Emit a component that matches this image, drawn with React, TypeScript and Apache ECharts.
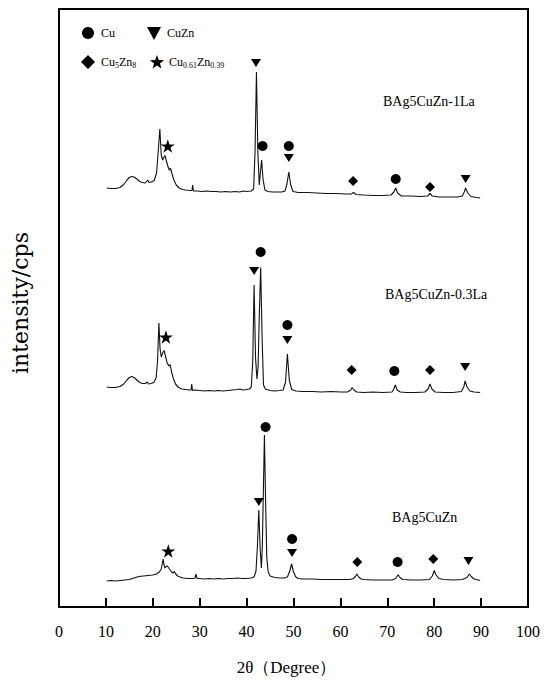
import { useEffect, useRef } from "react";
import * as echarts from "echarts";

// ---- data (2θ in degrees, intensity as plotted, patterns stacked) ----
const xTickValues = [0, 10, 20, 30, 40, 50, 60, 70, 80, 90, 100];

const sampleNames = ["BAg5CuZn-1La", "BAg5CuZn-0.3La", "BAg5CuZn"];

const patternTop: [number, number][] = [
  [10.2, 419], [11, 418.5], [12, 418.5], [13, 419.5], [13.8, 422.5], [14.5, 427], [15.0, 429.5], [15.5, 430.5],
  [16.0, 430], [16.6, 428], [17.2, 425.5], [17.8, 424.5], [18.4, 424], [18.9, 427], [19.2, 424.5], [19.7, 425],
  [20.3, 426.5], [20.8, 434], [21.1, 452], [21.5, 478], [21.8, 452], [22.1, 447], [22.4, 450], [22.6, 451.5],
  [22.9, 446], [23.2, 441], [23.5, 437], [23.8, 438.5], [24.1, 433], [24.5, 427], [25, 422], [25.6, 419],
  [26.3, 417.5], [27, 417], [28, 416.5], [28.35, 416.5], [28.5, 422], [28.65, 416], [29.5, 416], [30.5, 415.5],
  [31.5, 416], [32.5, 415.5], [33.5, 415.5], [34.5, 415], [35.5, 415.5], [36.5, 415], [37.5, 415.5], [38.5, 415],
  [39.3, 416], [40, 415.5], [41, 416], [41.5, 418], [41.8, 455], [42.1, 535], [42.4, 455], [42.7, 422],
  [42.95, 435], [43.2, 447], [43.5, 428], [43.9, 417], [44.5, 415.5], [45.5, 415], [46.5, 415], [47.5, 415],
  [48.2, 416], [48.6, 423], [49.0, 435], [49.4, 422], [49.9, 415.5], [51, 414.5], [53, 414.5], [55, 414],
  [57, 413.5], [59, 413.5], [61, 413], [62.3, 413], [62.8, 414.5], [63.3, 412.5], [65, 412], [67, 411.5],
  [69, 411.5], [70.8, 412], [71.4, 415], [71.8, 419], [72.2, 414], [73, 411], [75, 411], [77, 410.5],
  [78.6, 411], [79.1, 413.5], [79.6, 411], [81, 410], [83, 410], [85, 410], [86.0, 411], [86.4, 415],
  [86.7, 419], [87.1, 414.5], [87.8, 410.5], [89, 409.5], [89.8, 409],
];

const patternMiddle: [number, number][] = [
  [10.2, 220], [11, 219.5], [12, 219.5], [13, 220.5], [13.8, 223], [14.5, 227], [15.0, 229.5], [15.5, 230.5],
  [16.0, 229.5], [16.6, 227], [17.2, 224.5], [17.8, 223.5], [18.4, 223.5], [18.8, 225], [19.1, 223], [19.6, 223.5],
  [20.2, 224.5], [20.7, 229], [21.0, 245], [21.3, 284], [21.55, 258], [21.8, 250], [22.1, 254], [22.4, 256.5],
  [22.7, 251], [23.0, 245], [23.3, 242], [23.5, 241], [23.7, 242.5], [24.0, 235], [24.4, 228], [24.9, 222.5],
  [25.5, 219.5], [26.2, 218], [27, 217.5], [27.8, 217], [28.15, 217], [28.3, 223], [28.45, 216.5], [29, 217],
  [30, 216.5], [31, 216], [32, 216.5], [33, 216], [34, 216.5], [35, 216], [36, 216.5], [37, 217],
  [38, 217.5], [38.6, 218], [39.2, 217], [40, 217.5], [40.6, 218], [41.0, 220], [41.3, 245], [41.6, 322],
  [41.9, 250], [42.2, 228], [42.45, 240], [42.7, 290], [43.0, 339.5], [43.3, 270], [43.6, 222], [44.0, 218],
  [45, 216.5], [46, 216], [47, 216.5], [47.8, 217], [48.3, 225], [48.7, 253], [49.1, 227], [49.6, 217.5],
  [50.5, 216], [52, 215.5], [54, 215.5], [56, 215], [58, 215.5], [60, 215], [61.5, 215], [62.2, 217],
  [62.5, 219.5], [62.9, 217], [63.5, 215], [65, 214.5], [67, 215], [69, 214.5], [71, 215], [71.4, 218],
  [71.7, 222], [72.1, 217], [72.8, 215], [74, 214.5], [76, 214.5], [78, 215], [78.7, 218], [79.1, 223],
  [79.5, 218], [80.2, 215], [82, 214.5], [84, 214.5], [85.8, 215.5], [86.3, 220], [86.6, 226], [87.0, 220],
  [87.6, 216], [88.5, 215], [89.8, 214.5],
];

const patternBottom: [number, number][] = [
  [10.2, 26], [11, 26.5], [12, 26], [13, 26.5], [14, 27], [15, 27.5], [16, 29], [17, 30.5],
  [18, 31], [19, 31.5], [20, 32], [20.8, 33], [21.4, 35], [21.8, 38], [22.0, 43], [22.2, 48],
  [22.4, 42], [22.6, 39], [22.85, 40.5], [23.1, 41], [23.4, 39], [23.7, 37], [24.0, 35], [24.3, 34],
  [24.6, 35.5], [24.9, 33], [25.3, 31], [25.8, 30], [26.5, 29], [27.5, 28.5], [28.5, 28.5], [29.0, 29],
  [29.2, 33], [29.4, 28.5], [30, 28.5], [31, 28], [32, 28.5], [33, 28], [34, 28.5], [35, 28],
  [36, 28.5], [37, 28.5], [38, 29], [39, 28.5], [40, 28.5], [41, 29], [41.6, 30], [42.0, 36],
  [42.3, 60], [42.6, 97], [42.9, 58], [43.15, 39], [43.35, 60], [43.55, 110], [43.8, 172], [44.05, 105],
  [44.3, 50], [44.6, 35], [45, 31], [46, 29.5], [47, 29], [48, 29], [48.7, 30], [49.2, 36],
  [49.6, 43], [50.0, 35], [50.5, 30], [51, 28.5], [52, 28], [54, 28], [56, 27.5], [58, 27.5],
  [60, 27.5], [62, 27.5], [62.8, 28.5], [63.2, 30.5], [63.5, 33], [63.9, 30], [64.4, 28], [65, 27.5],
  [67, 27], [69, 27], [71, 27], [71.8, 28.5], [72.3, 32.3], [72.7, 29.5], [73.3, 27.5], [75, 27],
  [77, 27], [79, 27.5], [79.6, 31], [80, 36.5], [80.4, 32], [81, 28.5], [82, 27.5], [84, 27],
  [86, 27.5], [87, 29.5], [87.5, 33], [87.9, 30.5], [88.5, 28], [89.8, 26.5],
];

// phase markers placed above the peaks
const phaseNames = ["Cu", "CuZn", "Cu5Zn8", "Cu0.61Zn0.39"];

const markersCu: [number, number][] = [
  [43.4, 461], [49.0, 461], [71.8, 428],
  [43.0, 355], [48.7, 282], [71.5, 236],
  [44.05, 180], [49.7, 68], [72.2, 45],
];
const markersCuZn: [number, number][] = [
  [42.0, 544], [49.0, 449], [86.7, 428],
  [41.6, 336], [48.7, 267], [86.6, 240],
  [42.6, 105], [49.7, 54], [87.3, 46],
];
const markersCu5Zn8: [number, number][] = [
  [62.7, 426], [79.1, 420],
  [62.4, 237], [79.1, 237],
  [63.6, 45], [79.8, 48],
];
const markersStar: [number, number][] = [
  [23.2, 461], [22.8, 270], [23.3, 56],
];

const SERIF = "'Liberation Serif', 'DejaVu Serif', serif";
const TRI_DOWN = "path://M0,0 L10,0 L5,9 Z";
const STAR =
  "path://M50,0 L61.2,34.5 L97.6,34.5 L68.2,55.9 L79.4,90.5 L50,69.1 L20.6,90.5 L31.8,55.9 L2.4,34.5 L38.8,34.5 Z";

function starPoints(cx: number, cy: number, ro: number, ri: number): number[][] {
  const pts: number[][] = [];
  for (let k = 0; k < 10; k++) {
    const a = -Math.PI / 2 + (k * Math.PI) / 5;
    const r = k % 2 === 0 ? ro : ri;
    pts.push([cx + r * Math.cos(a), cy + r * Math.sin(a)]);
  }
  return pts;
}

export default function App() {
  const ref = useRef<HTMLDivElement>(null);

  useEffect(() => {
    if (!ref.current) return;
    const chart = echarts.init(ref.current, undefined, { renderer: "svg" });

    const lineSeries = [patternTop, patternMiddle, patternBottom].map((d, i) => ({
      type: "line",
      name: sampleNames[i],
      data: d,
      showSymbol: false,
      symbol: "none",
      lineStyle: { color: "#111", width: 1.1 },
      silent: true,
      z: 2,
    }));

    const markerDefs = [
      { name: phaseNames[0], data: markersCu, symbol: "circle", size: 10 },
      { name: phaseNames[1], data: markersCuZn, symbol: TRI_DOWN, size: [10, 9] },
      { name: phaseNames[2], data: markersCu5Zn8, symbol: "diamond", size: [10, 10] },
      { name: phaseNames[3], data: markersStar, symbol: STAR, size: 14 },
    ];
    const scatterSeries = markerDefs.map((m) => ({
      type: "scatter",
      name: m.name,
      data: m.data,
      symbol: m.symbol,
      symbolSize: m.size,
      symbolKeepAspect: true,
      itemStyle: { color: "#000", opacity: 1 },
      silent: true,
      z: 3,
    }));

    const rich = {
      n: { fontSize: 12, fontFamily: SERIF, fill: "#000", color: "#000" },
      s: { fontSize: 8, fontFamily: SERIF, fill: "#000", color: "#000", padding: [7, 0, 0, 0] },
    };
    const legendText = [
      "{n|Cu}",
      "{n|CuZn}",
      "{n|Cu}{s|5}{n|Zn}{s|8}",
      "{n|Cu}{s|0.61}{n|Zn}{s|0.39}",
    ];
    const legendTextPos = [
      [101, 33],
      [167, 33],
      [101, 62],
      [169, 62],
    ];

    const legendGraphics: any[] = [
      { type: "circle", shape: { cx: 88, cy: 33, r: 6 }, style: { fill: "#000" } },
      { type: "polygon", shape: { points: [[147, 27], [161, 27], [154, 40]] }, style: { fill: "#000" } },
      { type: "polygon", shape: { points: [[88, 55], [95, 62], [88, 69], [81, 62]] }, style: { fill: "#000" } },
      { type: "polygon", shape: { points: starPoints(157, 62.5, 7.5, 3.1) }, style: { fill: "#000" } },
      ...legendText.map((t, i) => ({
        type: "text",
        x: legendTextPos[i][0],
        y: legendTextPos[i][1],
        style: {
          text: t,
          rich,
          fill: "#000",
          font: `12px ${SERIF}`,
          verticalAlign: "middle",
          align: "left",
        },
      })),
    ];

    chart.setOption({
      animation: false,
      backgroundColor: "#fff",
      grid: {
        left: 59,
        right: 22,
        top: 9,
        bottom: 75,
        show: true,
        borderColor: "#000",
        borderWidth: 2,
        containLabel: false,
      },
      xAxis: {
        type: "value",
        min: 0,
        max: 100,
        interval: 10,
        name: "2θ（Degree）",
        nameLocation: "middle",
        nameGap: 52,
        nameTextStyle: { fontFamily: SERIF, fontSize: 17, color: "#000", padding: [0, 14, 0, 0] },
        axisLine: { show: true, lineStyle: { color: "#000", width: 2 } },
        axisTick: { show: true, inside: true, length: 9, lineStyle: { color: "#000", width: 2 } },
        axisLabel: {
          margin: 16,
          fontFamily: SERIF,
          fontSize: 16,
          color: "#000",
          formatter: (v: number) => (xTickValues.includes(v) ? String(v) : ""),
        },
        splitLine: { show: false },
      },
      yAxis: {
        type: "value",
        min: 0,
        max: 598,
        name: "intensity/cps",
        nameLocation: "middle",
        nameRotate: 90,
        nameGap: 28,
        nameTextStyle: { fontFamily: "'DejaVu Serif', serif", fontSize: 22, color: "#000", padding: [0, 0, 0, 10] },
        axisLine: { show: true, lineStyle: { color: "#000", width: 2 } },
        axisTick: { show: false },
        axisLabel: { show: false },
        splitLine: { show: false },
      },
      graphic: [
        ...legendGraphics,
        { type: "text", left: 383, top: 94, style: { text: sampleNames[0], font: `14px ${SERIF}`, fill: "#000" } },
        { type: "text", left: 385, top: 287, style: { text: sampleNames[1], font: `14px ${SERIF}`, fill: "#000" } },
        { type: "text", left: 392, top: 510, style: { text: sampleNames[2], font: `14px ${SERIF}`, fill: "#000" } },
      ],
      series: [...lineSeries, ...scatterSeries],
    });

    return () => chart.dispose();
  }, []);

  return (
    <div
      ref={ref}
      style={{ position: "fixed", left: 0, top: 0, width: 550, height: 682, background: "#fff" }}
    />
  );
}
